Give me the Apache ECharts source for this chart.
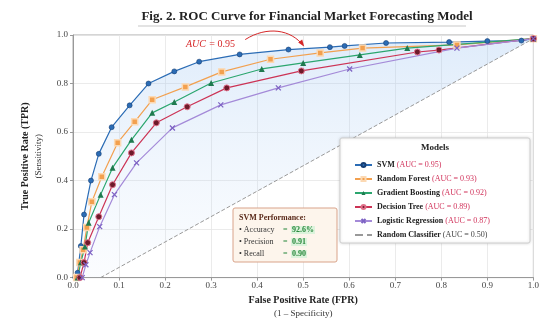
<!DOCTYPE html>
<html>
<head>
<meta charset="utf-8">
<script src="https://cdn.jsdelivr.net/npm/echarts@6/dist/echarts.min.js"></script>
<style>
  html, body { margin: 0; padding: 0; background: #fff; }
  #chart { width: 542px; height: 323px; }
</style>
</head>
<body>
<div id="chart"></div>
<script>
// ROC points (false positive rate, true positive rate) per model
const svmFpr = [0.005, 0.01, 0.017, 0.024, 0.039, 0.056, 0.084, 0.123, 0.164, 0.22, 0.274, 0.362, 0.468, 0.558, 0.59, 0.68, 0.817, 0.90, 0.974, 1.0];
const svmTpr = [0.0, 0.02, 0.13, 0.26, 0.40, 0.51, 0.62, 0.71, 0.80, 0.85, 0.89, 0.92, 0.94, 0.95, 0.955, 0.967, 0.971, 0.975, 0.977, 0.985];

const rfFpr = [0.008, 0.015, 0.022, 0.030, 0.041, 0.0625, 0.097, 0.134, 0.172, 0.244, 0.323, 0.429, 0.537, 0.629, 0.834, 1.0];
const rfTpr = [0.0, 0.062, 0.115, 0.206, 0.313, 0.416, 0.556, 0.642, 0.733, 0.786, 0.848, 0.90, 0.926, 0.946, 0.959, 0.985];

const gbFpr = [0.01, 0.017, 0.026, 0.034, 0.060, 0.086, 0.127, 0.172, 0.22, 0.30, 0.41, 0.50, 0.623, 0.726, 1.0];
const gbTpr = [0.0, 0.062, 0.128, 0.226, 0.342, 0.453, 0.568, 0.679, 0.724, 0.802, 0.86, 0.885, 0.918, 0.946, 0.985];

const dtFpr = [0.015, 0.024, 0.032, 0.056, 0.086, 0.127, 0.181, 0.248, 0.334, 0.496, 0.748, 0.795, 1.0];
const dtTpr = [0.0, 0.062, 0.144, 0.251, 0.383, 0.514, 0.638, 0.704, 0.782, 0.852, 0.930, 0.938, 0.985];

const lrFpr = [0.02, 0.028, 0.037, 0.058, 0.09, 0.138, 0.216, 0.321, 0.446, 0.601, 0.834, 1.0];
const lrTpr = [0.0, 0.053, 0.103, 0.21, 0.342, 0.473, 0.617, 0.712, 0.782, 0.86, 0.946, 0.985];

const randFpr = [0.06, 1.0];
const randTpr = [0.0, 0.985];

const modelNames = ['SVM', 'Random Forest', 'Gradient Boosting', 'Decision Tree', 'Logistic Regression', 'Random Classifier'];
const modelAuc = ['0.95', '0.93', '0.92', '0.89', '0.87', '0.50'];

const xTicks = { min: 0, max: 1, step: 0.1 };
const yTicks = { min: 0, max: 1, step: 0.2 };

const svmStats = [
  ['Accuracy', '92.6%'],
  ['Precision', '0.91'],
  ['Recall', '0.90']
];

const SERIF = "'Liberation Serif', 'DejaVu Serif', serif";

function pairs(xs, ys) { return xs.map((x, i) => [x, ys[i]]); }

const svmData = pairs(svmFpr, svmTpr);
const randData = pairs(randFpr, randTpr);

const chart = echarts.init(document.getElementById('chart'), null, { renderer: 'canvas' });

function curve(name, data, color, symbol, size, itemStyle) {
  return {
    name, type: 'line', data, showAllSymbol: true,
    symbol, symbolSize: size,
    lineStyle: { color, width: 1.2 },
    itemStyle: Object.assign({ color }, itemStyle || {}),
    z: 3
  };
}

const option = {
  animation: false,
  backgroundColor: '#fff',
  title: {
    text: 'Fig. 2. ROC Curve for Financial Market Forecasting Model',
    left: 302, textAlign: 'center', top: 5,
    textStyle: { fontFamily: SERIF, fontSize: 13, fontWeight: 'bold', color: '#222' }
  },
  grid: { left: 73, right: 5, top: 35, bottom: 45, show: true, borderColor: '#aaa', borderWidth: 1, backgroundColor: '#fff' },
  xAxis: {
    type: 'value', min: xTicks.min, max: xTicks.max, interval: xTicks.step,
    name: '{a|False Positive Rate (FPR)}\n{b|(1 – Specificity)}',
    nameLocation: 'middle', nameGap: 10,
    nameTextStyle: {
      rich: {
        a: { fontFamily: SERIF, fontSize: 10, fontWeight: 'bold', color: '#222', lineHeight: 14 },
        b: { fontFamily: SERIF, fontSize: 9, color: '#333', lineHeight: 12 }
      }
    },
    axisLine: { lineStyle: { color: '#999' } },
    axisTick: { show: true, length: 3, lineStyle: { color: '#999' } },
    axisLabel: { fontFamily: SERIF, fontSize: 9, color: '#444', margin: 4, formatter: v => v.toFixed(1) },
    splitLine: { lineStyle: { color: '#e6e6e6', width: 0.8 } }
  },
  yAxis: {
    type: 'value', min: yTicks.min, max: yTicks.max, interval: yTicks.step,
    name: '{a|True Positive Rate (TPR)}\n{b|(Sensitivity)}',
    nameLocation: 'middle', nameGap: 28, nameRotate: 90,
    nameTextStyle: {
      rich: {
        a: { fontFamily: SERIF, fontSize: 10, fontWeight: 'bold', color: '#222', lineHeight: 15 },
        b: { fontFamily: SERIF, fontSize: 9, color: '#333', lineHeight: 12 }
      }
    },
    axisLine: { show: true, lineStyle: { color: '#999' } },
    axisTick: { show: true, length: 3, lineStyle: { color: '#999' } },
    axisLabel: { fontFamily: SERIF, fontSize: 9, color: '#444', margin: 5, formatter: v => v.toFixed(1) },
    splitLine: { lineStyle: { color: '#e6e6e6', width: 0.8 } }
  },
  legend: {
    orient: 'vertical', left: 349, top: 155, z: 8,
    itemGap: 4, itemWidth: 17, itemHeight: 5,
    data: modelNames,
    formatter: name => {
      const i = modelNames.indexOf(name);
      const tag = i === modelNames.length - 1 ? 'g' : 'r';
      return '{b|' + name + '} {' + tag + '|(AUC = ' + modelAuc[i] + ')}';
    },
    textStyle: {
      fontFamily: SERIF, fontSize: 8, lineHeight: 10,
      rich: {
        b: { fontFamily: SERIF, fontSize: 8, fontWeight: 'bold', color: '#222', lineHeight: 10 },
        r: { fontFamily: SERIF, fontSize: 8, color: '#d1335b', lineHeight: 10 },
        g: { fontFamily: SERIF, fontSize: 8, color: '#444', lineHeight: 10 }
      }
    }
  },
  series: [
    {
      // shaded band between the SVM curve and the chance line
      type: 'custom', silent: true, z: 1, data: [0],
      renderItem: (params, api) => {
        const pts = svmData.map(p => api.coord(p));
        randData.slice().reverse().forEach(p => pts.push(api.coord(p)));
        return {
          type: 'polygon',
          shape: { points: pts },
          style: {
            fill: new echarts.graphic.LinearGradient(0, 0, 0, 1, [
              { offset: 0, color: 'rgba(150,192,240,0.30)' },
              { offset: 1, color: 'rgba(200,222,248,0.08)' }
            ])
          }
        };
      }
    },
    curve('SVM', svmData, '#2b6cb5', 'circle', 5, { borderColor: '#163e73', borderWidth: 0.6 }),
    curve('Random Forest', pairs(rfFpr, rfTpr), '#f2a04f', 'rect', 6, { borderColor: '#fcd9b3', borderWidth: 1.5 }),
    curve('Gradient Boosting', pairs(gbFpr, gbTpr), '#2ba66e', 'triangle', 6, { color: '#1f7a4f' }),
    curve('Decision Tree', pairs(dtFpr, dtTpr), '#cc3355', 'circle', 6, { color: '#6e1a2a', borderColor: '#e0708a', borderWidth: 1 }),
    curve('Logistic Regression', pairs(lrFpr, lrTpr), '#a48ad8', 'path://M0,0L10,10M10,0L0,10', 5,
      { color: 'none', borderColor: '#7e64c4', borderWidth: 1.3 }),
    {
      // chance line: markerless, so its legend entry is a bare dashed stroke
      name: 'Random Classifier', type: 'line', data: randData,
      symbol: 'none', lineStyle: { color: '#999', width: 1, type: 'dashed' },
      itemStyle: { color: 'rgba(0,0,0,0)', borderWidth: 0 }, z: 2
    }
  ]
};

chart.setOption(option);

// Annotations placed from data coordinates
const tip = chart.convertToPixel({ gridIndex: 0 }, [0.50, 0.944]);
const tipX = tip[0], tipY = tip[1] - 3;
const startX = tipX - 58, startY = tipY - 6;

const statRows = svmStats.map(r => '{l|• ' + r[0] + '}{e|=}{v|' + r[1] + '}').join('\n');

chart.setOption({
  graphic: [
    {
      type: 'line', z: 10, silent: true,
      shape: { x1: 138, y1: 26, x2: 466, y2: 26 },
      style: { stroke: '#c8c8c8', lineWidth: 1.2 }
    },
    {
      type: 'text', z: 10, left: 186, top: 38,
      style: {
        text: '{i|AUC} {n|= 0.95}',
        rich: {
          i: { fontFamily: SERIF, fontSize: 10, fontStyle: 'italic', fill: '#d62728' },
          n: { fontFamily: SERIF, fontSize: 10, fill: '#d62728' }
        }
      }
    },
    {
      type: 'bezierCurve', z: 10, silent: true,
      shape: { x1: startX, y1: startY, cpx1: startX + 22, cpy1: startY - 14, cpx2: tipX - 12, cpy2: tipY - 16, x2: tipX, y2: tipY },
      style: { stroke: '#d62728', lineWidth: 1, fill: null }
    },
    {
      type: 'polygon', z: 10, silent: true,
      shape: { points: [[tipX + 1, tipY + 1], [tipX - 5, tipY - 3], [tipX - 1, tipY - 6]] },
      style: { fill: '#d62728' }
    },
    {
      type: 'rect', z: 4, silent: true,
      shape: { x: 340, y: 138, width: 190, height: 105, r: 2 },
      style: { fill: '#ffffff', stroke: '#cfcfcf', lineWidth: 1, shadowBlur: 3, shadowColor: 'rgba(0,0,0,0.15)' }
    },
    {
      type: 'text', z: 6, x: 435, y: 148, silent: true,
      style: { text: 'Models', fontFamily: SERIF, fontSize: 9, fontWeight: 'bold', fill: '#222', align: 'center', verticalAlign: 'middle' }
    },
    {
      type: 'rect', z: 5, silent: true,
      shape: { x: 233, y: 208, width: 104, height: 54, r: 2 },
      style: { fill: '#fdf5ec', stroke: '#d9a38a', lineWidth: 1 }
    },
    {
      type: 'text', z: 6, x: 239, y: 212, silent: true,
      style: {
        text: '{t|SVM Performance:}\n' + statRows,
        rich: {
          t: { fontFamily: SERIF, fontSize: 8, fontWeight: 'bold', fill: '#5a2a1a', lineHeight: 12 },
          l: { fontFamily: SERIF, fontSize: 8, fill: '#333', width: 44, lineHeight: 12 },
          e: { fontFamily: SERIF, fontSize: 8, fill: '#2b8a3e', width: 8, lineHeight: 12 },
          v: { fontFamily: SERIF, fontSize: 8, fontWeight: 'bold', fill: '#2b8a3e', backgroundColor: '#dcf3dc', padding: [0, 1], lineHeight: 12 }
        }
      }
    }
  ]
});
</script>
</body>
</html>
